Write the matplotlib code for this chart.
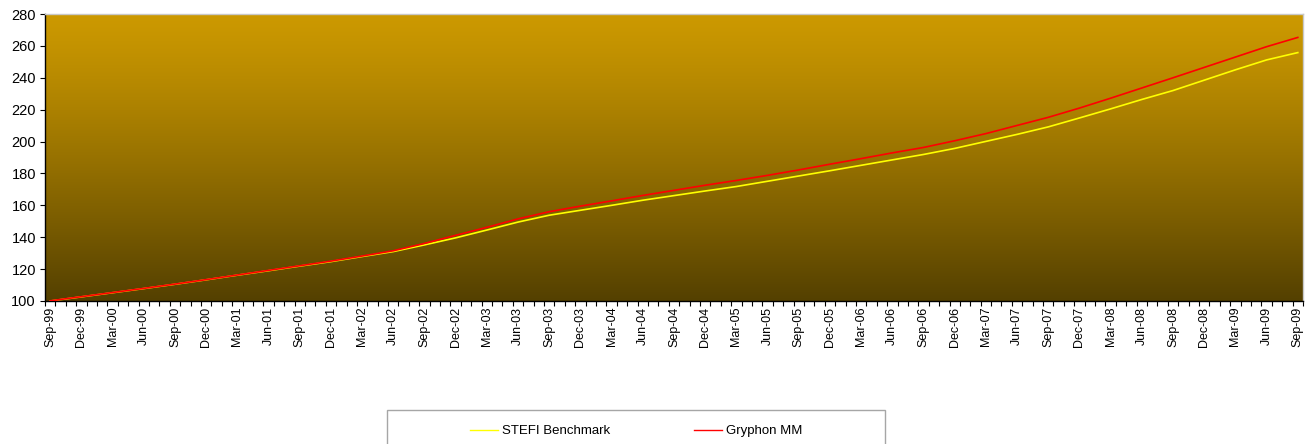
import numpy as np
import matplotlib.pyplot as plt
from matplotlib.lines import Line2D
from matplotlib.patches import Rectangle

plt.rcParams['font.family'] = ['Liberation Sans', 'DejaVu Sans']

# quarterly labels Sep-99 .. Sep-09 (axis is monthly, labels every 3rd month)
QUARTERS = ['Sep-99', 'Dec-99', 'Mar-00', 'Jun-00', 'Sep-00', 'Dec-00', 'Mar-01', 'Jun-01',
            'Sep-01', 'Dec-01', 'Mar-02', 'Jun-02', 'Sep-02', 'Dec-02', 'Mar-03', 'Jun-03',
            'Sep-03', 'Dec-03', 'Mar-04', 'Jun-04', 'Sep-04', 'Dec-04', 'Mar-05', 'Jun-05',
            'Sep-05', 'Dec-05', 'Mar-06', 'Jun-06', 'Sep-06', 'Dec-06', 'Mar-07', 'Jun-07',
            'Sep-07', 'Dec-07', 'Mar-08', 'Jun-08', 'Sep-08', 'Dec-08', 'Mar-09', 'Jun-09',
            'Sep-09']
N_MONTHS = 121

stefi = [100.0, 102.6, 105.2, 107.8, 110.5, 113.3, 116.2, 119.0, 121.9, 124.7,
         127.9, 131.0, 135.2, 139.6, 144.5, 149.5, 153.8, 156.9, 160.0, 163.2,
         166.1, 169.0, 171.8, 175.1, 178.4, 181.7, 185.1, 188.5, 191.9, 195.7,
         200.1, 204.5, 209.2, 214.8, 220.5, 226.4, 232.0, 238.5, 245.0, 251.2,
         255.8]
gryphon = [100.1, 102.7, 105.3, 107.9, 110.6, 113.4, 116.3, 119.2, 122.1, 125.0,
           128.2, 131.5, 136.1, 141.2, 146.2, 151.5, 156.0, 159.5, 162.8, 166.2,
           169.4, 172.6, 175.6, 178.8, 182.2, 185.8, 189.3, 192.9, 196.3, 200.5,
           205.0, 210.1, 215.2, 221.0, 227.2, 233.6, 240.0, 246.5, 253.0, 259.5,
           265.3]

W, H = 1310, 444
fig = plt.figure(figsize=(W / 100, H / 100), dpi=100)
ax = fig.add_axes([45 / W, 1 - 301 / H, (1303 - 45) / W, (301 - 14) / H])

# gold-to-brown vertical gradient for the plot area
top = np.array([204, 153, 0]) / 255
bot = np.array([84, 64, 0]) / 255
t = np.linspace(0, 1, 256) ** 1.2
grad = top[None, :] * (1 - t[:, None]) + bot[None, :] * t[:, None]
ax.imshow(grad[:, None, :], extent=[0, 1, 0, 1], transform=ax.transAxes,
          aspect='auto', zorder=0, interpolation='bilinear')

x = np.arange(len(QUARTERS)) * 3
ax.plot(x, stefi, color='#FFFF00', lw=1.2, zorder=2, label='STEFI Benchmark')
ax.plot(x, gryphon, color='#FF0000', lw=1.2, zorder=3, label='Gryphon MM')

ax.set_xlim(-0.5, N_MONTHS - 0.5)
ax.set_ylim(100, 280)
ax.set_yticks(np.arange(100, 281, 20))
ax.set_xticks(x)
ax.set_xticklabels(QUARTERS, rotation=90, fontsize=9)
ax.set_xticks(np.arange(-0.5, N_MONTHS, 1), minor=True)
ax.tick_params(axis='x', which='major', length=0, pad=4)
ax.tick_params(axis='x', which='minor', length=3.5, width=0.8, direction='out')
ax.tick_params(axis='y', labelsize=10.5, length=3.5, width=0.8, direction='out', pad=3)

for side in ['left', 'bottom']:
    ax.spines[side].set_color('black')
    ax.spines[side].set_linewidth(1.0)
for side in ['top', 'right']:
    ax.spines[side].set_color('#C8C8C8')
    ax.spines[side].set_linewidth(1.0)

# legend box at the bottom, running off the canvas like the original
fig.add_artist(Rectangle((387 / W, -0.2), (885 - 387) / W, 0.2 + 1 - 410 / H,
                         transform=fig.transFigure, fill=False,
                         edgecolor='#A6A6A6', lw=1.0))
handles = [Line2D([], [], color='#FFFF00', lw=1.0),
           Line2D([], [], color='#FF0000', lw=1.0)]
fig.legend(handles, ['STEFI Benchmark', 'Gryphon MM'], loc='center',
           bbox_to_anchor=(636 / W, 1 - 431 / H), ncol=2, frameon=False,
           fontsize=9.5, handlelength=2.1, handletextpad=0.3, columnspacing=6.4)

fig.savefig('out.png', dpi=100)
